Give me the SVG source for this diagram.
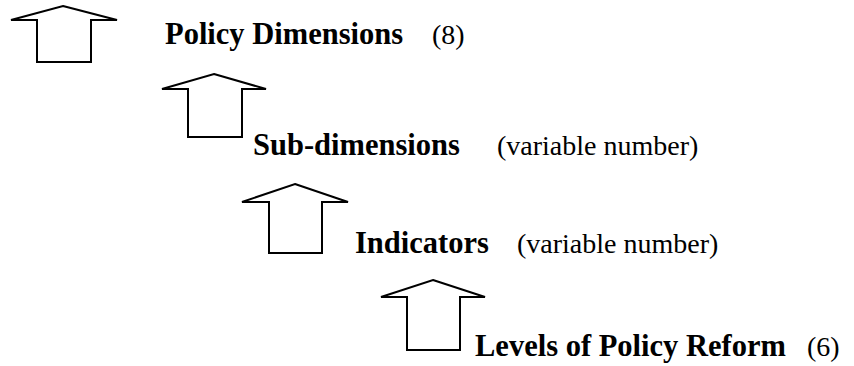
<svg xmlns="http://www.w3.org/2000/svg" width="854" height="366" viewBox="0 0 854 366">
<style>
.arrow{fill:#fff;stroke:#000;stroke-width:2;stroke-linejoin:miter}
.b{font-family:"Liberation Serif","Times New Roman",serif;font-weight:bold;font-size:30.5px;fill:#000}
.r{font-family:"Liberation Serif","Times New Roman",serif;font-size:28px;fill:#000}
</style>
<rect width="854" height="366" fill="#fff"/>
<g id="connectors">
<polygon class="arrow" points="63,6 117,20 91,20 91,62 37,62 37,20 11,20"/>
<polygon class="arrow" points="214,74 266,89 242,89 242,137 188,137 188,89 162,89"/>
<polygon class="arrow" points="295,184 348,202 322,202 322,253 269,253 269,202 242,202"/>
<polygon class="arrow" points="433,280 485,297 460,297 460,350 407,350 407,297 381,297"/>
</g>
<g id="policy-dimensions">
<text class="b" x="165" y="44">Policy Dimensions</text>
<text class="r" x="432" y="44">(8)</text>
</g>
<g id="sub-dimensions">
<text class="b" x="253" y="155">Sub-dimensions</text>
<text class="r" x="497" y="155">(variable number)</text>
</g>
<g id="indicators">
<text class="b" x="355" y="253">Indicators</text>
<text class="r" x="517" y="253">(variable number)</text>
</g>
<g id="levels">
<text class="b" x="475" y="356">Levels of Policy Reform</text>
<text class="r" x="807" y="356">(6)</text>
</g>
</svg>
